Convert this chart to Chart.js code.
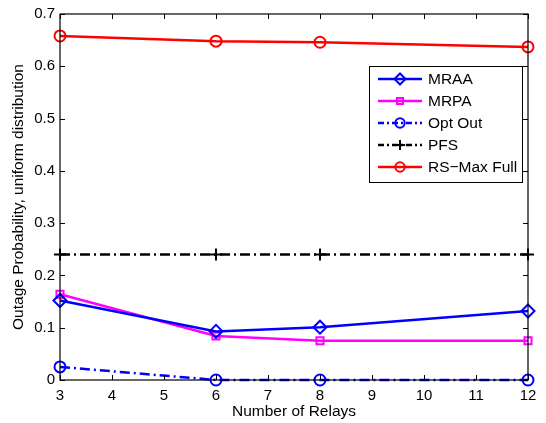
<!DOCTYPE html>
<html>
<head>
<meta charset="utf-8">
<script src="https://cdn.jsdelivr.net/npm/chart.js@4/dist/chart.umd.min.js"></script>
<style>
  html, body { margin: 0; padding: 0; background: #fff; }
  #wrap { width: 546px; height: 423px; }
</style>
</head>
<body>
<div id="wrap"><canvas id="outageChart" width="546" height="423"></canvas></div>
<script>
// data
const relays = [3, 6, 8, 12];
const mraa = [0.152, 0.093, 0.101, 0.132];
const mrpa = [0.164, 0.084, 0.075, 0.075];
const optOut = [0.025, 0, 0, 0];
const pfs = [0.24, 0.24, 0.24, 0.24];
const rsMaxFull = [0.658, 0.648, 0.646, 0.637];
const xTicks = [3, 4, 5, 6, 7, 8, 9, 10, 11, 12];
const yTicks = [0, 0.1, 0.2, 0.3, 0.4, 0.5, 0.6, 0.7];

const FONT = "'Liberation Sans', Arial, Helvetica, sans-serif";

function pts(vals) {
  return relays.map((r, i) => ({ x: r, y: vals[i] }));
}

function series(label, vals, color, style, radius, dash) {
  return {
    label: label,
    data: pts(vals),
    borderColor: color,
    backgroundColor: "rgba(0,0,0,0)",
    borderWidth: 2.5,
    borderDash: dash || [],
    pointStyle: style,
    pointRadius: radius,
    pointBorderColor: color,
    pointBackgroundColor: "rgba(0,0,0,0)",
    pointBorderWidth: 2,
    tension: 0,
    clip: false
  };
}

// inward ticks on all four sides + box, matlab style
const boxTicks = {
  id: "boxTicks",
  afterDraw(chart) {
    const { ctx, chartArea: a, scales } = chart;
    const len = 5;
    ctx.save();
    ctx.strokeStyle = "#000";
    ctx.lineWidth = 1;
    ctx.beginPath();
    xTicks.forEach(v => {
      const px = Math.round(scales.x.getPixelForValue(v)) + 0.5;
      ctx.moveTo(px, a.bottom); ctx.lineTo(px, a.bottom - len);
      ctx.moveTo(px, a.top); ctx.lineTo(px, a.top + len);
    });
    yTicks.forEach(v => {
      const py = Math.round(scales.y.getPixelForValue(v)) + 0.5;
      ctx.moveTo(a.left, py); ctx.lineTo(a.left + len, py);
      ctx.moveTo(a.right, py); ctx.lineTo(a.right - len, py);
    });
    ctx.stroke();
    ctx.lineWidth = 1.2;
    ctx.strokeRect(a.left, a.top, a.right - a.left, a.bottom - a.top);
    ctx.restore();
  }
};

// legend box inside the axes (upper right)
const insideLegend = {
  id: "insideLegend",
  afterDraw(chart) {
    const { ctx } = chart;
    const x0 = 369, y0 = 66, w = 153, h = 116;
    const rowH = 22;
    ctx.save();
    ctx.fillStyle = "#fff";
    ctx.fillRect(x0, y0, w, h);
    ctx.strokeStyle = "#000";
    ctx.lineWidth = 1;
    ctx.strokeRect(x0 + 0.5, y0 + 0.5, w, h);
    chart.data.datasets.forEach((ds, i) => {
      const cy = y0 + 13 + i * rowH;
      ctx.strokeStyle = ds.borderColor;
      ctx.lineWidth = ds.borderWidth;
      ctx.setLineDash(ds.borderDash.length ? [6, 3, 2, 3] : []);
      ctx.beginPath();
      ctx.moveTo(x0 + 9, cy);
      ctx.lineTo(x0 + 53, cy);
      ctx.stroke();
      ctx.setLineDash([]);
      ctx.lineWidth = ds.pointBorderWidth;
      ctx.strokeStyle = ds.pointBorderColor;
      ctx.fillStyle = ds.pointBackgroundColor;
      if (Chart.helpers && Chart.helpers.drawPoint) {
        Chart.helpers.drawPoint(ctx, {
          pointStyle: ds.pointStyle,
          radius: ds.pointRadius * 0.85,
          rotation: 0,
          borderWidth: ds.pointBorderWidth
        }, x0 + 31, cy);
      }
      ctx.fillStyle = "#000";
      ctx.font = "15.5px " + FONT;
      ctx.textBaseline = "middle";
      ctx.fillText(ds.label, x0 + 59, cy + 1);
    });
    ctx.restore();
  }
};

new Chart(document.getElementById("outageChart"), {
  type: "line",
  data: {
    datasets: [
      series("MRAA", mraa, "#0000ff", "rectRot", 6.5),
      series("MRPA", mrpa, "#ff00ff", "rect", 5),
      series("Opt Out", optOut, "#0000ff", "circle", 5.5, [10, 4, 2, 4]),
      series("PFS", pfs, "#000000", "cross", 6, [10, 4, 2, 4]),
      series("RS\u2212Max Full", rsMaxFull, "#ff0000", "circle", 5.5)
    ]
  },
  options: {
    responsive: false,
    animation: false,
    layout: { padding: { top: 12, right: 18, left: 0, bottom: 0 } },
    plugins: { legend: { display: false }, tooltip: { enabled: false } },
    scales: {
      x: {
        type: "linear",
        min: 3,
        max: 12,
        grid: { display: false, tickLength: 0 },
        border: { display: false },
        afterBuildTicks: s => { s.ticks = xTicks.map(v => ({ value: v })); },
        afterFit: s => { s.height = 43; },
        ticks: {
          color: "#000",
          font: { family: FONT, size: 15 },
          padding: 7,
          maxRotation: 0,
          autoSkip: false
        },
        title: {
          display: true,
          text: "Number of Relays",
          color: "#000",
          font: { family: FONT, size: 15.5 },
          padding: { top: 0, bottom: 2 }
        }
      },
      y: {
        min: 0,
        max: 0.7,
        grid: { display: false, tickLength: 0 },
        border: { display: false },
        afterBuildTicks: s => { s.ticks = yTicks.map(v => ({ value: v })); },
        afterFit: s => { s.width = 60; },
        ticks: {
          color: "#000",
          font: { family: FONT, size: 15 },
          padding: 5,
          callback: v => (v === 0 ? "0" : v.toFixed(1))
        },
        title: {
          display: true,
          text: "Outage Probability, uniform distribution",
          color: "#000",
          font: { family: FONT, size: 15.5 },
          padding: { top: 9, bottom: 0 }
        }
      }
    }
  },
  plugins: [boxTicks, insideLegend]
});
</script>
</body>
</html>
